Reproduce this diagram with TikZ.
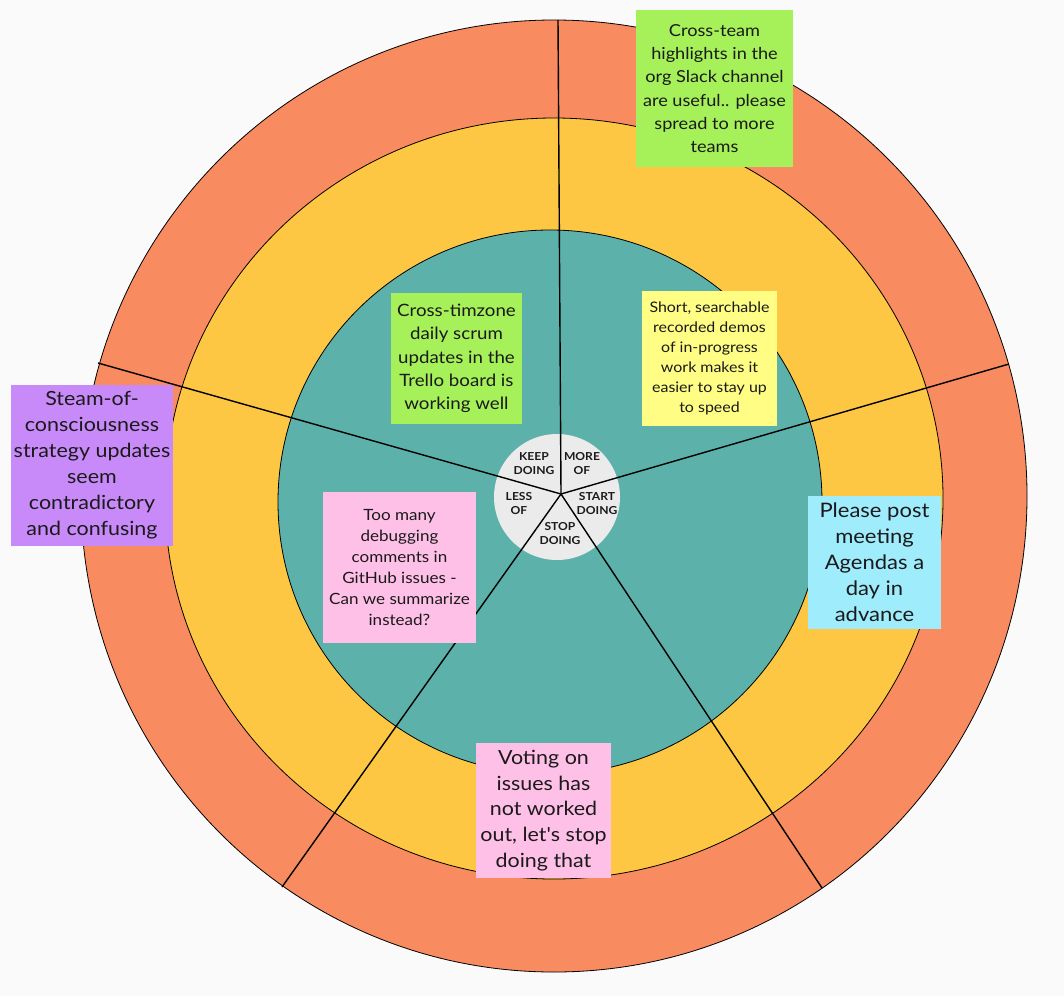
\documentclass[tikz,border=0pt]{standalone}
\usepackage{fontspec}
\setmainfont{Lato}
\newfontfamily\notefont{Lato}[FakeStretch=1.1]
\definecolor{bgcol}{HTML}{FAFAFA}
\definecolor{ringorange}{HTML}{F98B60}
\definecolor{ringyellow}{HTML}{FDC743}
\definecolor{ringteal}{HTML}{5CB2AA}
\definecolor{hubgray}{HTML}{EBEBEB}
\definecolor{notegreen}{HTML}{A6F05A}
\definecolor{noteyellow}{HTML}{FFFD84}
\definecolor{noteblue}{HTML}{9EECFC}
\definecolor{notepink}{HTML}{FFC0E8}
\definecolor{notepurple}{HTML}{C88AF8}
\definecolor{inkcol}{HTML}{1A1A1A}
\tikzset{
  ring/.style={draw=black, line width=0.8pt},
  spoke/.style={draw=black, line width=1.4pt},
  hublabel/.style={font=\notefont\fontsize{11}{14}\selectfont\bfseries, text=inkcol, align=center, inner sep=0pt},
  note/.style={rectangle, inner sep=0pt, align=center, text=inkcol},
}
\begin{document}
\begin{tikzpicture}[x=1pt,y=-1pt]
\useasboundingbox (0,0) rectangle (1064,996);
\fill[bgcol] (0,0) rectangle (1064,996);
% rings
\filldraw[ring, fill=ringorange] (554,496) ellipse [x radius=473pt, y radius=476pt];
\filldraw[ring, fill=ringyellow] (554,498.5) ellipse [x radius=389pt, y radius=380.5pt];
\filldraw[ring, fill=ringteal] (550,502) circle [radius=272pt];
\fill[hubgray] (557,497) circle [radius=63pt];
% spokes
\coordinate (hub) at (561,494);
\coordinate (eN) at (558,20);
\coordinate (eE) at (1009,364);
\coordinate (eSE) at (822,888);
\coordinate (eSW) at (282,887);
\coordinate (eW) at (98,363);
\draw[spoke] (hub) -- (eN);
\draw[spoke] (hub) -- (eE);
\draw[spoke] (hub) -- (eSE);
\draw[spoke] (hub) -- (eSW);
\draw[spoke] (hub) -- (eW);
% hub labels
\node[hublabel] (keep) at (534,464) {KEEP\\DOING};
\node[hublabel] (more) at (582,464) {MORE\\OF};
\node[hublabel] (less) at (519,504) {LESS\\OF};
\node[hublabel] (start) at (597,504) {START\\DOING};
\node[hublabel] (stop) at (560,534) {STOP\\DOING};
% sticky notes
\node[note, fill=notegreen, minimum width=157pt, minimum height=157pt,
  font=\notefont\fontsize{16.5}{23.2}\selectfont] (n1) at (714.5,88.5)
  {Cross-team\\highlights in the\\org Slack channel\\are useful.. please\\spread to more\\teams};
\node[note, fill=notepurple, minimum width=162pt, minimum height=161pt,
  font=\notefont\fontsize{19.5}{26}\selectfont] (n2) at (92,465.5)
  {Steam-of-\\consciousness\\strategy updates\\seem\\contradictory\\and confusing};
\node[note, fill=noteblue, minimum width=133pt, minimum height=133pt,
  font=\notefont\fontsize{20}{26}\selectfont] (n3) at (874.5,562.5)
  {Please post\\meeting\\Agendas a\\day in\\advance};
\node[note, fill=notegreen, minimum width=131pt, minimum height=131pt,
  font=\notefont\fontsize{17}{23.3}\selectfont] (n4) at (456.5,358.5)
  {Cross-timzone\\daily scrum\\updates in the\\Trello board is\\working well};
\node[note, fill=noteyellow, minimum width=135pt, minimum height=135pt,
  font=\notefont\fontsize{14.5}{20}\selectfont] (n5) at (709.5,358.5)
  {Short, searchable\\recorded demos\\of in-progress\\work makes it\\easier to stay up\\to speed};
\node[note, fill=notepink, minimum width=153pt, minimum height=151pt,
  font=\notefont\fontsize{15.5}{21}\selectfont] (n6) at (399.5,567.5)
  {Too many\\debugging\\comments in\\GitHub issues -\\Can we summarize\\instead?};
\node[note, fill=notepink, minimum width=135pt, minimum height=135pt,
  font=\notefont\fontsize{19.5}{25.8}\selectfont] (n7) at (543.5,810.5)
  {Voting on\\issues has\\not worked\\out, let's stop\\doing that};
\end{tikzpicture}
\end{document}
